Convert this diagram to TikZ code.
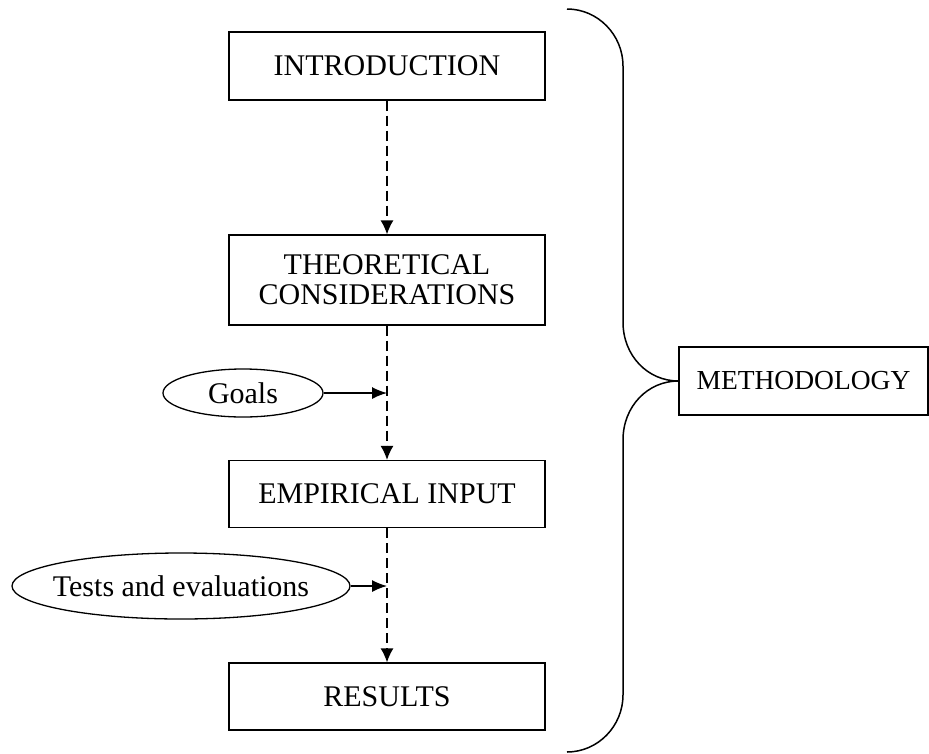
\documentclass[tikz,border=0pt]{standalone}
\usepackage{fontspec}
\setmainfont{Liberation Serif}
\usetikzlibrary{arrows.meta,shapes.geometric}
\begin{document}
\begin{tikzpicture}[x=1pt,y=-1pt,
  every node/.style={font=\fontsize{30}{30}\selectfont, inner sep=0pt},
  stepbox/.style={draw, line width=1.3pt, minimum width=316pt, align=center},
  oval/.style={draw, ellipse, line width=1.3pt},
  flow/.style={line width=1.3pt, dash pattern=on 10pt off 5pt, -{Latex[length=14pt,width=13pt]}},
  feed/.style={line width=1.3pt, -{Latex[length=15pt,width=12pt]}},
  brace/.style={line width=1.5pt}]
\useasboundingbox (0,0) rectangle (929,753);
\node[stepbox, minimum height=68pt] (intro) at (387,66) {INTRODUCTION};
\node[stepbox, minimum height=90pt] (theo) at (387,280) {THEORETICAL\\CONSIDERATIONS};
\node[stepbox, minimum height=67pt] (emp) at (387,494) {EMPIRICAL INPUT};
\node[stepbox, minimum height=67pt] (res) at (387,696.5) {RESULTS};
\node[draw, line width=1.3pt, minimum width=249pt, minimum height=68pt,
      font=\fontsize{27.5}{30}\selectfont] (meth) at (803.5,381) {METHODOLOGY};
\node[oval, minimum width=160pt, minimum height=48pt] (goals) at (243,393) {Goals};
\node[oval, minimum width=338pt, minimum height=66pt] (tests) at (181,586) {\makebox[180pt]{Tests and evaluations}};
\draw[flow] (intro.south) -- (theo.north);
\draw[flow] (theo.south) -- (emp.north);
\draw[flow] (emp.south) -- (res.north);
\draw[feed] (goals.east) -- (goals.east -| theo.south);
\draw[feed] (tests.east) -- (tests.east -| emp.south);
\coordinate (btop) at (567,9);
\coordinate (bbot) at (567,752);
\draw[brace] (btop) .. controls (598,9) and (623,35) .. (623,66)
  -- (623,322) .. controls (623,356) and (648,381) .. (meth.west)
  .. controls (648,381) and (623,406) .. (623,440)
  -- (623,695) .. controls (623,726) and (598,752) .. (bbot);
\end{tikzpicture}
\end{document}
